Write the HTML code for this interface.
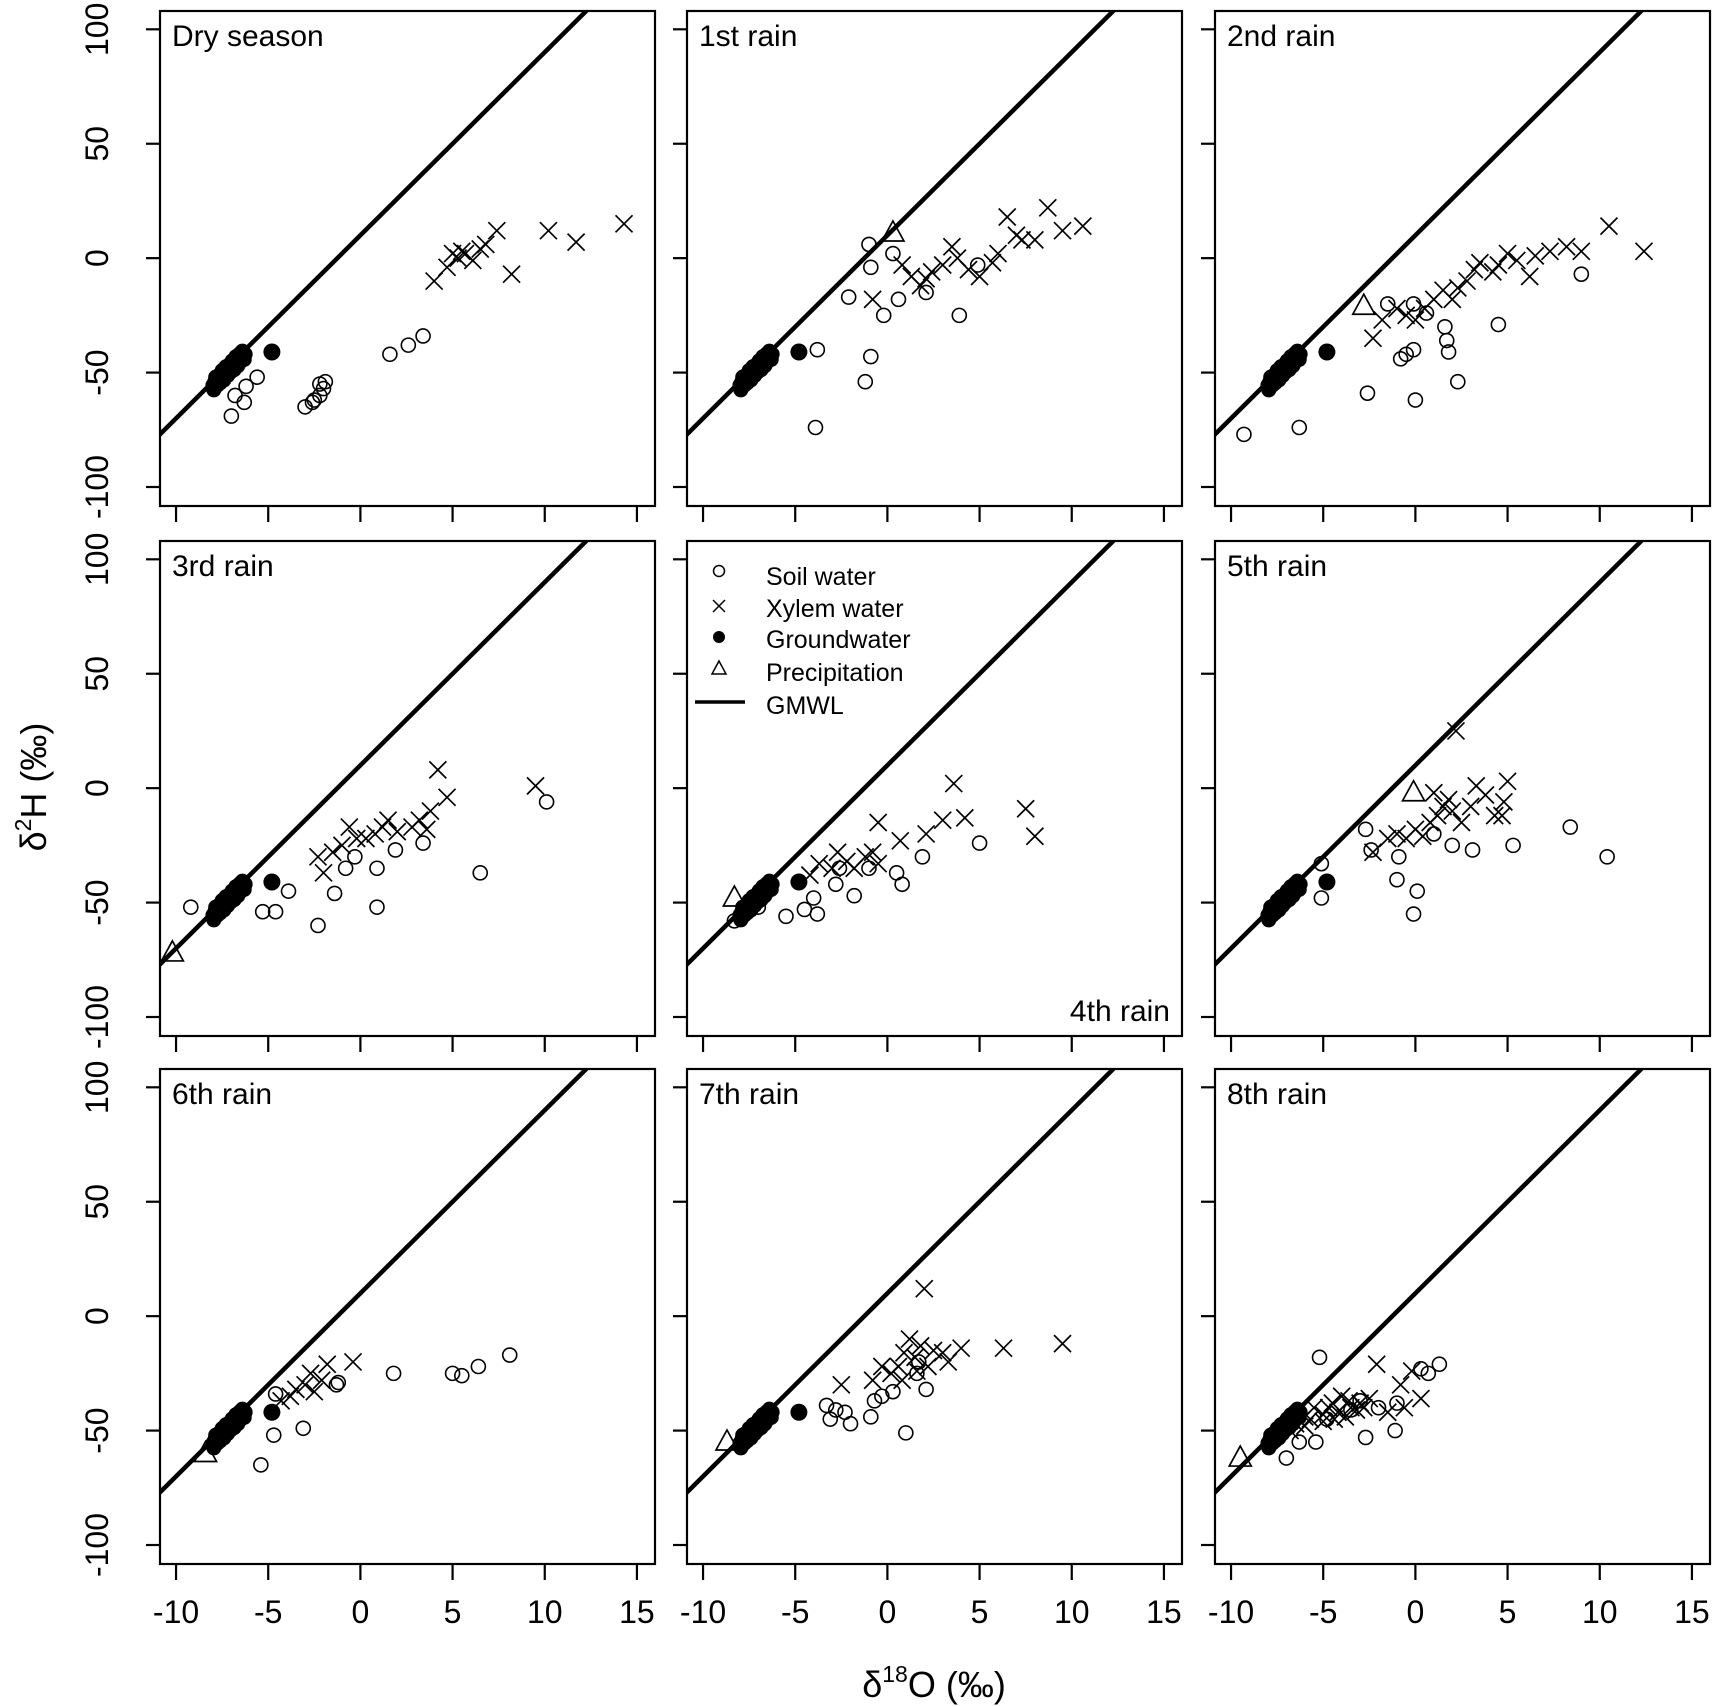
<!DOCTYPE html>
<html><head><meta charset="utf-8"><style>
html,body{margin:0;padding:0;background:#fff;}
svg{display:block;}
text{font-family:"Liberation Sans",Arial,sans-serif;fill:#000;}
</style></head><body>
<svg id="s" width="1713" height="1707" viewBox="0 0 1713 1707" xmlns="http://www.w3.org/2000/svg"></svg>
<script>
const S=document.getElementById('s');let h='';
const X0=[160,687,1215],Y0=[11,541,1069],W=495,H=495;
const xmin=-10.87,xmax=15.98,ymin=-108.3,ymax=108;
const GW=[];for(let i=0;i<36;i++){const x=-8+i*1.75/35;GW.push([x,8*x+8.5-2.5*Math.sin(i*1.7)]);}
const P=[
{t:'Dry season',g:[[-4.8,-41]],pr:[],
s:[[-6.8,-60],[-7,-69],[-6.3,-63],[-5.6,-52],[-6.2,-56],[-3,-65],[-2.6,-63],[-2.2,-60],[-2,-57],[-2.2,-55],[-1.9,-54],[-2.5,-62],[1.6,-42],[2.6,-38],[3.4,-34]],
x:[[4,-10],[4.7,-4],[5.3,0],[5.7,2],[6.1,-1],[6.5,4],[6.8,6],[7.4,12],[8.2,-7],[10.2,12],[11.7,7],[14.3,15],[5,2],[5.5,3]]},
{t:'1st rain',g:[[-4.8,-41]],pr:[[0.3,11]],
s:[[-3.8,-40],[-3.9,-74],[-1.2,-54],[-0.9,-43],[-1,6],[-0.9,-4],[0.3,2],[-2.1,-17],[-0.2,-25],[0.6,-18],[2.1,-15],[3.9,-25],[4.9,-3]],
x:[[-0.8,-18],[0.8,-3],[1.3,-8],[1.8,-12],[2.4,-6],[3,-3],[3.5,5],[3.8,0],[4.4,-5],[5,-8],[6,2],[6.5,18],[7,10],[7.3,8],[8,8],[8.7,22],[9.5,12],[10.6,14],[5.7,-2],[2.1,-9]]},
{t:'2nd rain',g:[[-4.8,-41]],pr:[[-2.8,-21]],
s:[[-9.3,-77],[-6.3,-74],[-2.6,-59],[-1.5,-20],[-0.8,-44],[-0.5,-42],[-0.1,-40],[-0.1,-20],[0,-62],[1.6,-30],[1.7,-36],[1.8,-41],[2.3,-54],[4.5,-29],[9,-7],[0.6,-24]],
x:[[-2.3,-35],[-1.8,-27],[-1,-22],[-0.5,-25],[0,-27],[0.5,-22],[1,-18],[1.5,-14],[2,-18],[2.3,-13],[2.8,-10],[3.2,-5],[3.5,-2],[4.2,-6],[5,2],[5.5,-1],[6.2,-8],[6.5,1],[7.3,3],[8.2,5],[9,3],[10.5,14],[12.4,3],[4.5,-3]]},
{t:'3rd rain',g:[[-4.8,-41]],pr:[[-10.2,-72]],
s:[[-9.2,-52],[-5.3,-54],[-4.6,-54],[-3.9,-45],[-2.3,-60],[-1.4,-46],[-0.8,-35],[0.9,-35],[0.9,-52],[1.9,-27],[3.4,-24],[6.5,-37],[10.1,-6],[-0.3,-30]],
x:[[-2.3,-30],[-2,-37],[-1.5,-28],[-1,-25],[-0.6,-17],[-0.2,-22],[0.3,-22],[0.8,-20],[1.2,-17],[1.5,-14],[2,-19],[2.8,-17],[3.2,-14],[3.6,-18],[4.2,8],[4.7,-4],[9.5,1],[3.8,-10]]},
{t:'',g:[[-4.8,-41]],pr:[[-8.3,-48]],
s:[[-8.3,-58],[-7,-52],[-5.5,-56],[-4.5,-53],[-3.8,-55],[-4,-48],[-2.8,-42],[-1.8,-47],[-1,-35],[0.5,-37],[0.8,-42],[1.9,-30],[5,-24],[-2.6,-35]],
x:[[-4.2,-38],[-3.7,-33],[-3,-35],[-2.7,-28],[-2.2,-32],[-1.8,-35],[-1.2,-30],[-0.8,-28],[-0.5,-33],[-0.5,-15],[0.7,-23],[2.1,-20],[3,-14],[3.6,2],[4.2,-13],[7.5,-9],[8,-21]]},
{t:'5th rain',g:[[-4.8,-41]],pr:[[-0.1,-2]],
s:[[-5.1,-33],[-5.1,-48],[-2.7,-18],[-2.4,-27],[-1,-40],[-0.9,-30],[-0.1,-55],[0.1,-45],[1,-20],[2,-25],[3.1,-27],[5.3,-25],[8.4,-17],[10.4,-30]],
x:[[-2.3,-28],[-1.5,-22],[-1,-20],[-0.5,-22],[0,-18],[0.4,-21],[0.8,-15],[1.2,-12],[1.5,-8],[1.8,-5],[2,-10],[2.2,25],[2.5,-15],[3,-8],[3.3,1],[3.8,-3],[4.3,-12],[4.8,-6],[5,3],[4.7,-12],[1,-2]]},
{t:'6th rain',g:[[-4.8,-42]],pr:[[-8.4,-60]],
s:[[-5.4,-65],[-4.7,-52],[-4.6,-34],[-3.1,-49],[-1.3,-30],[-1.2,-29],[1.8,-25],[5,-25],[5.5,-26],[6.4,-22],[8.1,-17]],
x:[[-4.3,-37],[-3.5,-32],[-3,-30],[-2.5,-33],[-2.1,-28],[-1.8,-21],[-0.4,-20],[-3.8,-35],[-2.7,-25]]},
{t:'7th rain',g:[[-4.8,-42]],pr:[[-8.7,-55]],
s:[[-3.3,-39],[-2.8,-41],[-3.1,-45],[-2.3,-42],[-2,-47],[-0.9,-44],[-0.7,-37],[-0.3,-35],[0.3,-33],[1,-51],[1.6,-25],[2.1,-32],[1.7,-20]],
x:[[-2.5,-30],[-0.8,-28],[-0.3,-22],[0.2,-25],[0.6,-22],[0.9,-16],[1.2,-10],[1.5,-18],[1.8,-13],[2,12],[2.2,-22],[2.5,-15],[3,-16],[3.3,-20],[4,-14],[6.3,-14],[9.5,-12],[0.8,-28],[1.6,-24]]},
{t:'8th rain',g:[],pr:[[-9.5,-62]],
s:[[-7,-62],[-6.3,-55],[-5.4,-55],[-5.2,-18],[-4.8,-45],[-3.5,-41],[-2.7,-53],[-2,-40],[-1.1,-50],[-1,-38],[0.3,-23],[0.7,-25],[1.3,-21],[-3,-37]],
x:[[-6.5,-47],[-6,-44],[-5.5,-40],[-5,-43],[-4.5,-38],[-4,-35],[-3.5,-40],[-3,-38],[-2.5,-36],[-2.1,-21],[-1.5,-42],[-0.8,-30],[-0.2,-24],[0.3,-36],[-0.6,-40],[-6,-48],[-5,-46],[-4.2,-42],[-3.8,-44],[-3.2,-41],[-4.7,-40],[-5.7,-45],[-6.8,-50],[-4.4,-45],[-3.6,-37],[-2.8,-40]]}
];
P.forEach((p,i)=>{
 const c=i%3,r=Math.floor(i/3),L=X0[c],T=Y0[r];
 const sx=v=>L+(v-xmin)/(xmax-xmin)*W, sy=v=>T+(ymax-v)/(ymax-ymin)*H;
 h+=`<clipPath id="c${i}"><rect x="${L}" y="${T}" width="${W}" height="${H}"/></clipPath>`;
 h+=`<g clip-path="url(#c${i})"><line x1="${sx(-11)}" y1="${sy(-78)}" x2="${sx(13)}" y2="${sy(114)}" stroke="#000" stroke-width="4.5"/>`;
 GW.forEach(q=>h+=`<circle cx="${sx(q[0])}" cy="${sy(q[1])}" r="7.5" fill="#000"/>`);
 p.g.forEach(q=>h+=`<circle cx="${sx(q[0])}" cy="${sy(q[1])}" r="8.5" fill="#000"/>`);
 p.s.forEach(q=>h+=`<circle cx="${sx(q[0])}" cy="${sy(q[1])}" r="7" fill="none" stroke="#000" stroke-width="1.6"/>`);
 p.x.forEach(q=>{const a=sx(q[0]),b=sy(q[1]),d=8.5;h+=`<path d="M${a-d} ${b-d}L${a+d} ${b+d}M${a-d} ${b+d}L${a+d} ${b-d}" stroke="#000" stroke-width="1.7"/>`;});
 p.pr.forEach(q=>{const a=sx(q[0]),b=sy(q[1]);h+=`<path d="M${a} ${b-12}L${a+11} ${b+8}L${a-11} ${b+8}Z" fill="none" stroke="#000" stroke-width="1.7"/>`;});
 h+=`</g><rect x="${L}" y="${T}" width="${W}" height="${H}" fill="none" stroke="#000" stroke-width="2.2"/>`;
 for(let v=-100;v<=100;v+=50){const y=sy(v);h+=`<line x1="${L-14}" y1="${y}" x2="${L}" y2="${y}" stroke="#000" stroke-width="2.2"/>`;
  if(c==0)h+=`<text transform="translate(${L-52},${y}) rotate(-90)" text-anchor="middle" font-size="32">${v}</text>`;}
 for(let v=-10;v<=15;v+=5){const x=sx(v);h+=`<line x1="${x}" y1="${T+H}" x2="${x}" y2="${T+H+16}" stroke="#000" stroke-width="2.2"/>`;
  if(r==2)h+=`<text x="${x}" y="${T+H+59}" text-anchor="middle" font-size="32">${v}</text>`;}
 if(p.t)h+=`<text x="${L+12}" y="${T+35}" font-size="30">${p.t}</text>`;
});
const lg=[['Soil water',577],['Xylem water',609],['Groundwater',640],['Precipitation',673],['GMWL',706]];
lg.forEach((l,k)=>{h+=`<text x="766" y="${l[1]+8}" font-size="25">${l[0]}</text>`;});
h+=`<circle cx="719" cy="571" r="5.5" fill="none" stroke="#000" stroke-width="1.5"/>`;
h+=`<path d="M713 600L725 612M713 612L725 600" stroke="#000" stroke-width="1.5"/>`;
h+=`<circle cx="719" cy="637" r="6" fill="#000"/>`;
h+=`<path d="M719 661L726 674L712 674Z" fill="none" stroke="#000" stroke-width="1.5"/>`;
h+=`<line x1="695" y1="702" x2="745" y2="702" stroke="#000" stroke-width="3.5"/>`;
h+=`<text x="1170" y="1021" text-anchor="end" font-size="30">4th rain</text>`;
h+=`<text x="934" y="1697" text-anchor="middle" font-size="36">δ<tspan font-size="23" dy="-15">18</tspan><tspan dy="15">O (‰)</tspan></text>`;
h+=`<text transform="translate(46,787) rotate(-90)" text-anchor="middle" font-size="36">δ<tspan font-size="23" dy="-15">2</tspan><tspan dy="15">H (‰)</tspan></text>`;
S.innerHTML=h;
</script>
</body></html>
